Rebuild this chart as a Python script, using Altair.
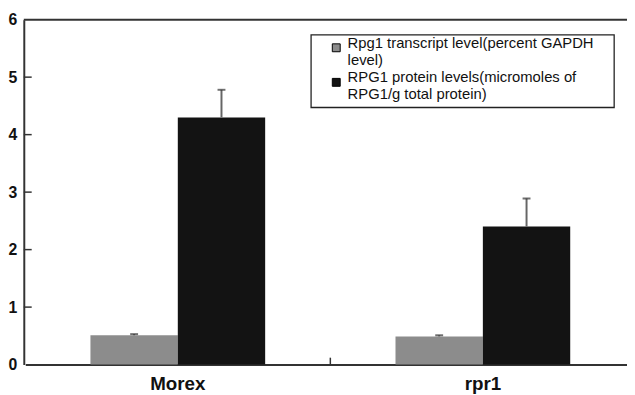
import altair as alt
import pandas as pd

groups = ["Morex", "rpr1"]
series = [
    "Rpg1 transcript level(percent GAPDH\nlevel)",
    "RPG1 protein levels(micromoles of\nRPG1/g total protein)",
]
transcript = [0.51, 0.49]
transcript_err = [0.02, 0.02]
protein = [4.3, 2.4]
protein_err = [0.48, 0.49]
y_ticks = [0, 1, 2, 3, 4, 5, 6]
inner_ticks = [1, 2, 3, 4, 5]
divider = ["rpr1"]

rows = []
for i, g in enumerate(groups):
    rows.append({"group": g, "series": series[0], "value": transcript[i],
                 "top": transcript[i] + transcript_err[i]})
    rows.append({"group": g, "series": series[1], "value": protein[i],
                 "top": protein[i] + protein_err[i]})
df = pd.DataFrame(rows)

W = 611
H = 349.4
FONT = "Liberation Sans"

xscale = alt.Scale(domain=groups, range=[1.5, 619.5], paddingInner=0, paddingOuter=0)
xoff_scale = alt.Scale(domain=series, paddingInner=0, paddingOuter=0.746)
yscale = alt.Scale(domain=[0, 6], nice=False)

x_enc = alt.X("group:N", scale=xscale, sort=groups,
              axis=alt.Axis(title=None, labelAngle=0, ticks=False, labelFont=FONT,
                            labelFontSize=19, labelFontWeight="bold", labelColor="#111",
                            labelPadding=10, domainColor="#333", domainWidth=2))
xo_enc = alt.XOffset("series:N", scale=xoff_scale, sort=series)

color = alt.Color(
    "series:N", sort=series,
    scale=alt.Scale(domain=series, range=["#8c8c8c", "#131313"]),
    legend=alt.Legend(
        title=None, orient="none", legendX=292, legendY=15,
        labelExpr="split(datum.label, '\\n')",
        labelFont=FONT, labelFontSize=15, labelColor="#111", labelLimit=400,
        labelBaseline="alphabetic",
        symbolType="square", symbolSize=64, symbolStrokeColor="#000",
        symbolStrokeWidth=1, symbolOffset=11, labelOffset=4,
        padding=6, rowPadding=2,
    ),
)

legend_box = alt.Chart(pd.DataFrame({"k": [0]})).mark_rect(
    fill="white", stroke="#222", strokeWidth=1.3
).encode(
    x=alt.value(291), x2=alt.value(598), y=alt.value(15.4), y2=alt.value(89),
)

bars = alt.Chart(df).mark_bar(stroke=None).encode(
    x=x_enc, xOffset=xo_enc,
    y=alt.Y("value:Q", scale=yscale,
            axis=alt.Axis(title=None, values=y_ticks, ticks=False, grid=False,
                          labelFont=FONT, labelFontSize=16, labelFontWeight="bold",
                          labelColor="#111", labelPadding=7, domainColor="#333",
                          domainWidth=2, format="d")),
    color=color,
)

err = alt.Chart(df).mark_rule(color="#666", strokeWidth=2).encode(
    x=alt.X("group:N", scale=xscale, sort=groups), xOffset=xo_enc,
    y=alt.Y("value:Q", scale=yscale), y2="top:Q",
)
caps = alt.Chart(df).mark_tick(color="#333", thickness=2, size=8, orient="horizontal").encode(
    x=alt.X("group:N", scale=xscale, sort=groups), xOffset=xo_enc,
    y=alt.Y("top:Q", scale=yscale),
)

yt = alt.Chart(pd.DataFrame({"t": inner_ticks})).mark_rule(color="#333", strokeWidth=1.5).encode(
    y=alt.Y("t:Q", scale=yscale), x=alt.value(0), x2=alt.value(8),
)
top_line = alt.Chart(pd.DataFrame({"t": [6]})).mark_rule(color="#333", strokeWidth=2).encode(
    y=alt.Y("t:Q", scale=yscale), x=alt.value(0), x2=alt.value(W),
)
mid_tick = alt.Chart(pd.DataFrame({"g": divider})).mark_rule(color="#333", strokeWidth=1.5).encode(
    x=alt.X("g:N", scale=xscale, bandPosition=0),
    y=alt.value(H), y2=alt.value(H - 7),
)

chart = alt.layer(legend_box, bars, err, caps, yt, top_line, mid_tick).properties(
    width=W, height=H,
    autosize=alt.AutoSizeParams(type="none"),
    padding={"left": 16, "top": 9.3, "right": 0, "bottom": 28.3},
    background="white",
).configure_view(stroke=None)

chart.save("out.html", embed_options={"renderer": "svg", "actions": False})
